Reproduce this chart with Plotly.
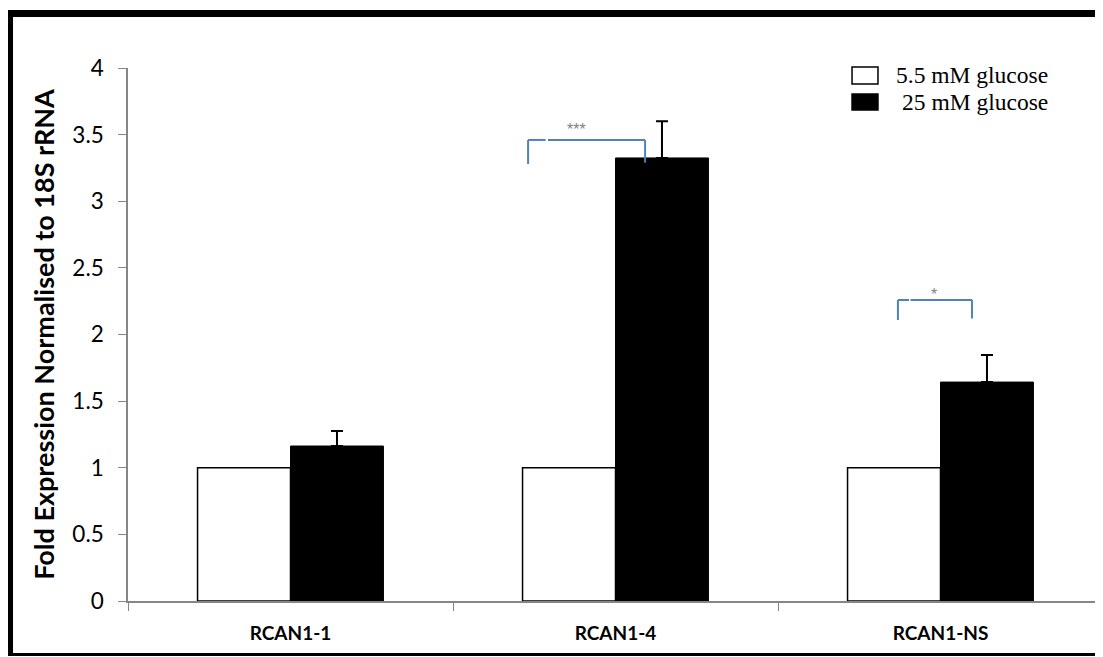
import plotly.graph_objects as go

categories = ["RCAN1-1", "RCAN1-4", "RCAN1-NS"]
low_glucose = [1.0, 1.0, 1.0]
high_glucose = [1.163, 3.325, 1.643]
high_err = [0.113, 0.275, 0.203]
series_names = ["5.5 mM glucose", "25 mM glucose"]
y_ticks = [0, 0.5, 1, 1.5, 2, 2.5, 3, 3.5, 4]

# significance brackets: (x_left, x_right, y_top, y_left_bottom, y_right_bottom, label, label_x, label_y)
brackets = [
    (0.731, 1.091, 3.46, 3.28, 3.29, "***", 0.8815, 3.54),
    (1.869, 2.097, 2.259, 2.109, 2.12, "*", 1.98, 2.30),
]

fig = go.Figure()
fig.add_trace(go.Bar(
    x=categories, y=low_glucose, name=series_names[0], showlegend=False,
    marker=dict(color="white", line=dict(color="black", width=1.5)),
))
fig.add_trace(go.Bar(
    x=categories, y=high_glucose, name=series_names[1], showlegend=False,
    marker=dict(color="black", line=dict(color="black", width=1)),
    error_y=dict(type="data", array=high_err, symmetric=False, arrayminus=[0, 0, 0],
                 color="black", thickness=2, width=6),
))

blue = "#4F81BD"
for (xl, xr, yt, ylb, yrb, lab, lx, ly) in brackets:
    gap_a = xl + (xr - xl) * 0.15
    gap_b = xl + (xr - xl) * 0.17
    for (x0, y0, x1, y1) in [(xl, ylb, xl, yt), (xl, yt, gap_a, yt),
                             (gap_b, yt, xr, yt), (xr, yt, xr, yrb)]:
        fig.add_shape(type="line", xref="x", yref="y", x0=x0, y0=y0, x1=x1, y1=y1,
                      line=dict(color=blue, width=2))
    fig.add_annotation(x=lx, y=ly, xref="x", yref="y", text=lab, showarrow=False,
                       font=dict(family="Liberation Sans", size=16, color="#7f7f7f"))

# custom legend
legend_fill = ["white", "black"]
legend_box_y = [(0.970, 1.0019), (0.9212, 0.9512)]
legend_text_x = [0.7857, 0.7915]
legend_text_y = [0.9869, 0.9362]
for i in range(2):
    fig.add_shape(type="rect", xref="paper", yref="paper",
                  x0=0.7426, x1=0.7692, y0=legend_box_y[i][0], y1=legend_box_y[i][1],
                  fillcolor=legend_fill[i], line=dict(color="black", width=1.5))
    fig.add_annotation(x=legend_text_x[i], y=legend_text_y[i], xref="paper", yref="paper",
                       text=series_names[i], showarrow=False, xanchor="left", yanchor="middle",
                       font=dict(family="Liberation Serif", size=23.5, color="black"))

# outer frame
frame = [(-0.121, 1.1023, -0.121, -0.1004, 6),
         (-0.125, 1.1023, 0.998, 1.1023, 7),
         (0.9964, 1.1023, 0.9964, -0.1004, 3),
         (-0.125, -0.1004, 0.998, -0.1004, 3)]
for (x0, y0, x1, y1, w) in frame:
    fig.add_shape(type="line", xref="paper", yref="paper", x0=x0, y0=y0, x1=x1, y1=y1,
                  line=dict(color="black", width=w))

fig.update_layout(
    width=1095, height=649,
    margin=dict(l=120, r=0, t=60, b=56),
    plot_bgcolor="white", paper_bgcolor="white",
    barmode="group", bargap=0.428, bargroupgap=0,
    showlegend=False,
    xaxis=dict(
        showline=True, linecolor="#868686", linewidth=1.5,
        ticks="outside", tickson="boundaries", ticklen=8, tickcolor="#868686",
        tickfont=dict(family="Lato", size=19, color="black", weight="bold"),
        ticklabelstandoff=14,
        showgrid=False, range=[-0.5, 2.5],
    ),
    yaxis=dict(
        range=[0, 4], tickvals=y_ticks, ticktext=[f"{v:g}" for v in y_ticks],
        showline=True, linecolor="#868686", linewidth=1.5,
        ticks="outside", ticklen=8, tickcolor="#868686",
        tickfont=dict(family="Lato", size=22.5, color="black"),
        ticklabelstandoff=10,
        showgrid=False, zeroline=False,
        title=dict(text="Fold Expression Normalised to 18S rRNA",
                   font=dict(family="Lato", size=27, color="black", weight="bold"),
                   standoff=10),
    ),
)

fig.write_html("out.html")
